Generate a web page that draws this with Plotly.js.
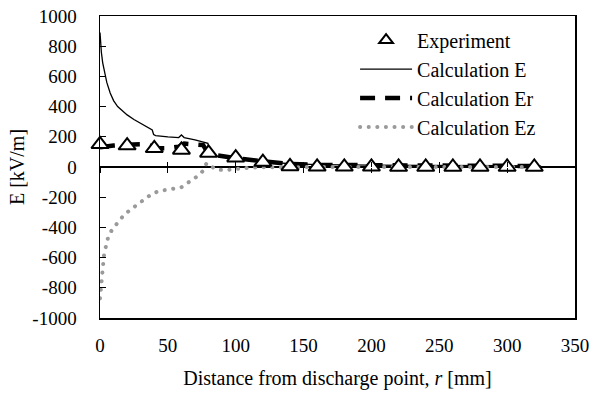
<!DOCTYPE html>
<html>
<head>
<meta charset="utf-8">
<script src="https://cdn.plot.ly/plotly-3.0.1.min.js"></script>
<style>
html,body{margin:0;padding:0;background:#fff;}
#chart{width:590px;height:400px;}
</style>
</head>
<body>
<div id="chart"></div>
<script>
// Experiment
const expR = [0,20,40,60,80,100,120,140,160,180,200,220,240,260,280,300,320];
const expE = [150,142,124,113,93,62,33,4,1,1,1,0,0,0,0,0,0];

// Calculation E
const calcER = [0,0.5,1,2,3,5,7.5,10,13,17,20,25,30,35,38.5,39.5,41,50,58,60,62,70,77,79.5,81,90,100,110,120,130,140,160,180,200,240,280,325];
const calcE  = [890,820,760,690,640,560,490,440,400,365,345,315,290,265,245,215,208,200,195,212,195,180,165,157,75,65,58,48,35,28,22,16,13,12,10,9,8];

// Calculation Er
const calcErR = [0,5,10,20,30,38,42,50,58,62,70,76,80,90,100,110,120,130,140,160,180,200,240,280,325];
const calcEr  = [130,138,142,148,150,140,125,125,135,155,150,145,85,70,58,48,38,30,20,14,12,11,9,8,7];

// Calculation Ez
const calcEzR = [0,0.5,1,1.5,2,3,4.5,6,9,13,17,22,27,33,38,43,49,55,60,66,71,76,78.5,80,86,93,99,105,112,130,150,200,250,325];
const calcEz  = [-870,-810,-750,-690,-640,-580,-520,-465,-413,-366,-325,-285,-250,-216,-180,-160,-148,-142,-134,-100,-66,-25,25,15,-18,-20,-15,-8,-3,-1,0,0,0,0];

const xTicks = [0,50,100,150,200,250,300,350];
const yTicks = [-1000,-800,-600,-400,-200,0,200,400,600,800,1000];

const FONT = 'Liberation Serif, Times New Roman, serif';

const traces = [
  {x: calcER, y: calcE, name: 'Calculation E', mode: 'lines', type: 'scatter',
   xaxis: 'x', line: {color: '#000', width: 1.3}, legendrank: 2},
  {x: calcErR, y: calcEr, name: 'Calculation Er', mode: 'lines', type: 'scatter',
   xaxis: 'x', line: {color: '#000', width: 4.5, dash: '15px,10px'}, legendrank: 3},
  {x: calcEzR, y: calcEz, name: 'Calculation Ez', mode: 'lines', type: 'scatter',
   xaxis: 'x2', line: {color: '#9a9a9a', width: 4, dash: '0.1px,8.5px'}, legendrank: 4},
  {x: expR, y: expE, name: 'Experiment', mode: 'markers', type: 'scatter',
   xaxis: 'x3', cliponaxis: false,
   marker: {symbol: 'triangle-up', size: 15, color: '#fff', line: {color: '#000', width: 2}},
   legendrank: 1}
];

const tickAxisBase = {
  range: [0,350], tickvals: xTicks, showticklabels: false, showline: false,
  showgrid: false, zeroline: false, overlaying: 'x', anchor: 'free', position: 0.5,
  tickcolor: '#000', tickwidth: 1, ticklen: 5
};

const layout = {
  width: 590, height: 400,
  margin: {l: 100, r: 15, t: 16, b: 82},
  paper_bgcolor: '#fff', plot_bgcolor: '#fff',
  font: {family: FONT, size: 19, color: '#000'},
  showlegend: true,
  legend: {x: 0.537, y: 0.985, xanchor: 'left', yanchor: 'top', bgcolor: 'rgba(0,0,0,0)',
           font: {family: FONT, size: 20, color: '#000'}, itemsizing: 'constant',
           itemwidth: 52, tracegroupgap: 0},
  xaxis: {
    range: [0,350], tickvals: xTicks, ticktext: xTicks.map(String), ticks: '',
    showline: true, linecolor: '#000', linewidth: 1.5, mirror: true,
    showgrid: false, zeroline: false, ticklabelstandoff: 10,
    title: {text: 'Distance from discharge point, <i>r</i> [mm]', standoff: 15,
            font: {family: FONT, size: 20, color: '#000'}}
  },
  xaxis2: Object.assign({}, tickAxisBase, {ticks: 'outside'}),
  xaxis3: Object.assign({}, tickAxisBase, {ticks: 'inside'}),
  yaxis: {
    range: [-1000,1000], tickvals: yTicks, ticktext: yTicks.map(String),
    ticks: 'inside', ticklen: 6, tickcolor: '#000', tickwidth: 1,
    showline: true, linecolor: '#000', linewidth: 1.5, mirror: true,
    showgrid: false, zeroline: true, zerolinecolor: '#000', zerolinewidth: 1.2,
    ticklabelstandoff: 18,
    title: {text: 'E [kV/m]', standoff: 2, font: {family: FONT, size: 20, color: '#000'}}
  }
};

Plotly.newPlot('chart', traces, layout, {displayModeBar: false, staticPlot: true}).then(function(gd){
  gd.querySelectorAll('path').forEach(function(p){
    const da = p.style.strokeDasharray || '';
    if (da.indexOf('0.1px') === 0) p.style.strokeLinecap = 'round';
  });
  // match legend line widths to the traces
  gd.querySelectorAll('.legend .traces').forEach(function(t){
    const d = t.__data__ && t.__data__[0] && t.__data__[0].trace;
    if (!d || !d.line) return;
    t.querySelectorAll('.legendlines path').forEach(function(p){
      p.style.strokeWidth = d.line.width + 'px';
    });
  });
});
</script>
</body>
</html>
